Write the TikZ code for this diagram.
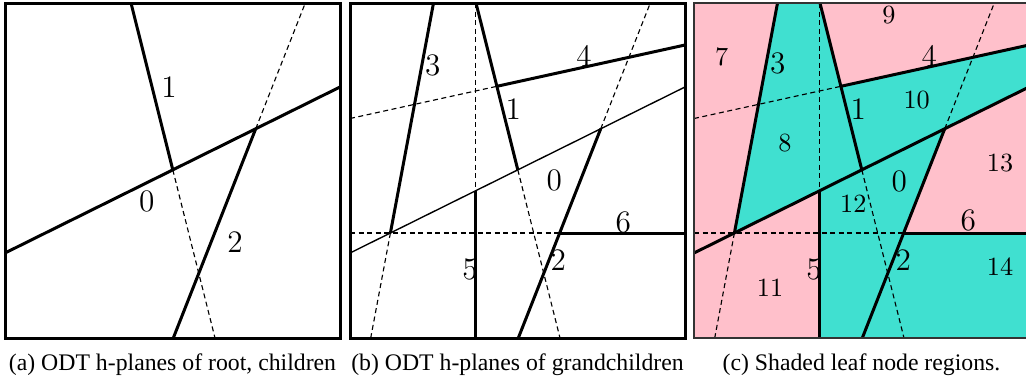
\documentclass[tikz,border=0pt]{standalone}
\usepackage{fontspec}
\newfontfamily\capfont{Liberation Serif}
\definecolor{leafpink}{RGB}{255,192,203}
\definecolor{leafcyan}{RGB}{64,224,208}

\newcommand{\planepts}{%
  \coordinate (tl) at (0,0);
  \coordinate (br) at (335,335);
  \coordinate (a0) at (0,250);
  \coordinate (b0) at (335,84);
  \coordinate (a1) at (126,0);
  \coordinate (b1) at (210,335);
  \coordinate (a2) at (300.3,0);
  \coordinate (b2) at (168.3,335);
  \coordinate (a3) at (83.5,0);
  \coordinate (b3) at (20.7,335);
  \coordinate (a4) at (0,115.5);
  \coordinate (b4) at (335,42);
  \coordinate (a5) at (125.7,0);
  \coordinate (b5) at (125.7,335);
  \coordinate (a6) at (0,230);
  \coordinate (b6) at (335,230);
  \coordinate (p10) at (167.8,166.8);
  \coordinate (p20) at (250.7,125.8);
  \coordinate (p30) at (40.4,230);
  \coordinate (p14) at (146.9,83.3);
  \coordinate (p50) at (125.7,187.7);
  \coordinate (p26) at (209.7,230);
}

\begin{document}
\begin{tikzpicture}[x=0.4pt,y=-0.4pt,
  cut/.style={line width=1.2pt},
  weak/.style={line width=0.55pt},
  ext/.style={line width=0.45pt,dash pattern=on 2pt off 1.4pt},
  frame/.style={line width=1.2pt},
  num/.style={font=\fontsize{12.5}{14}\selectfont},
  rid/.style={font=\fontsize{10.5}{12}\selectfont},
  captext/.style={anchor=base,font=\capfont\fontsize{9.5}{11}\selectfont}]
\clip (0,0) rectangle (1026,381);

% (a) root and children
\begin{scope}[shift={(5,3)}]
\planepts
\draw[ext] (p10) -- (b1);
\draw[ext] (p20) -- (a2);
\draw[cut] (a0) -- (b0);
\draw[cut] (a1) -- (p10);
\draw[cut] (b2) -- (p20);
\draw[frame] (tl) rectangle (br);
\node[num] (n1) at (164,84) {1};
\node[num] (n0) at (141.7,198) {0};
\node[num] (n2) at (230,239) {2};
\end{scope}

% (b) grandchildren
\begin{scope}[shift={(350,3)}]
\planepts
\draw[ext] (p10) -- (b1);
\draw[ext] (p20) -- (a2);
\draw[ext] (p30) -- (b3);
\draw[ext] (a4) -- (p14);
\draw[ext] (a5) -- (p50);
\draw[ext] (a6) -- (p26);
\draw[weak] (a0) -- (b0);
\draw[cut] (a1) -- (p10);
\draw[cut] (b2) -- (p20);
\draw[cut] (a3) -- (p30);
\draw[cut] (p14) -- (b4);
\draw[cut] (p50) -- (b5);
\draw[cut] (p26) -- (b6);
\draw[frame] (tl) rectangle (br);
\node[num] (m3) at (82.7,62) {3};
\node[num] (m4) at (234,53) {4};
\node[num] (m1) at (163.3,106) {1};
\node[num] (m0) at (204.3,177) {0};
\node[num] (m6) at (273.3,219) {6};
\node[num] (m5) at (120,266) {5};
\node[num] (m2) at (208.3,257) {2};
\end{scope}

% (c) leaf regions
\begin{scope}[shift={(694,3)}]
\planepts
\fill[leafpink] (tl) rectangle (br);
\fill[leafcyan] (a3) -- (a1) -- (p14) -- (b4) -- (b0) -- (p30) -- cycle;
\fill[leafcyan] (p50) -- (p20) -- (p26) -- (b6) -- (br) -- (b5) -- cycle;
\draw[ext] (p10) -- (b1);
\draw[ext] (p20) -- (a2);
\draw[ext] (p30) -- (b3);
\draw[ext] (a4) -- (p14);
\draw[ext] (a5) -- (p50);
\draw[ext] (a6) -- (p26);
\draw[cut] (a0) -- (b0);
\draw[cut] (a1) -- (p10);
\draw[cut] (b2) -- (p20);
\draw[cut] (a3) -- (p30);
\draw[cut] (p14) -- (b4);
\draw[cut] (p50) -- (b5);
\draw[cut] (p26) -- (b6);
\draw[line width=0.6pt,black!80] (tl) rectangle (br);
\node[num] (k3) at (83.7,60.5) {3};
\node[num] (k4) at (235.3,53) {4};
\node[num] (k1) at (164.3,106.3) {1};
\node[num] (k0) at (205.3,178.7) {0};
\node[num] (k6) at (274.3,217.7) {6};
\node[num] (k5) at (120,266.3) {5};
\node[num] (k2) at (209.3,257) {2};
\node[rid] (r7) at (27.7,54.3) {7};
\node[rid] (r9) at (195,12) {9};
\node[rid] (r8) at (91,140.3) {8};
\node[rid] (r10) at (222.7,97) {10};
\node[rid] (r13) at (306,159.7) {13};
\node[rid] (r12) at (159.3,201) {12};
\node[rid] (r14) at (306,263.7) {14};
\node[rid] (r11) at (76,284.3) {11};
\end{scope}

\node[captext] (capa) at (172.5,370) {(a) ODT h-planes of root, children};
\node[captext] (capb) at (517.5,370) {(b) ODT h-planes of grandchildren};
\node[captext] (capc) at (861.5,370) {(c) Shaded leaf node regions.};
\end{tikzpicture}
\end{document}
